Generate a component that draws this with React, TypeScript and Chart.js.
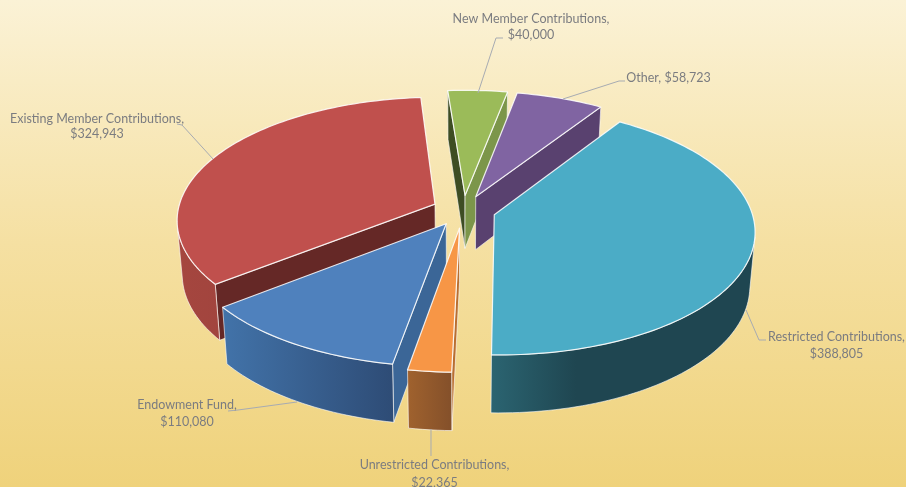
import React, { useEffect, useRef } from "react";
import { Chart, registerables } from "chart.js";

Chart.register(...registerables);

// ---- data ----
const categories = [
  "Restricted Contributions",
  "Unrestricted Contributions",
  "Endowment Fund",
  "Existing Member Contributions",
  "New Member Contributions",
  "Other",
];
const amounts = [388805, 22365, 110080, 324943, 40000, 58723];
const explode = [13.3, 14.7, 13, 12, 12.2, 12];
const topColors = ["#4BACC6", "#F79646", "#4F81BD", "#C0504D", "#9BBB59", "#8064A2"];

// ---- styling of the 3D projection ----
const W = 906;
const H = 487;
const RX = 257;
const KY = 121.5;
const PERSP = 0.1236;
const DEPTH = 53.5;
const DEPTH_PERSP = 0.08;
const CONVERGE = 0.018;
const DRAW_ORDER = [4, 5, 3, 0, 2, 1];
const NUDGE = [
  [-0.002, 0],
  [0.005, 0],
  [0.006, 0],
  [0.004, 0],
  [0.005, 0],
  [0.009, 0],
];
const WALLS = [
  { outer: [[0, "#2B6471"], [0.32, "#1F4651"], [1, "#1F4651"]], start: "#1F4651", end: "#2A6270" },
  { outer: [[0, "#A0622E"], [1, "#84502A"]], start: "#B96F30", end: "#84502A" },
  { outer: [[0, "#4273A9"], [1, "#2E4C76"]], start: "#3B6697", end: "#2E4C76" },
  { outer: [[0, "#A5463F"], [1, "#933D39"]], start: "#652826", end: "#652826" },
  { outer: [[0, "#7C964A"], [1, "#7C964A"]], start: "#3E4D23", end: "#7C964A" },
  { outer: [[0, "#59416F"], [1, "#59416F"]], start: "#59416F", end: "#59416F" },
];

const FONT = "12.5px Lato, 'Open Sans', sans-serif";
const TEXT_COLOR = "#7b7c80";
const LEADER_COLOR = "#a7abb2";
const fmt = (v: number) => "$" + v.toLocaleString("en-US");

// label lines are built from the data; placement per category
const LABELS = [
  { cx: 836.5, ys: [341, 358], leader: [[746, 310], [759, 340], [766, 340]] },
  { cx: 434.5, ys: [469, 487], leader: [[431, 429], [431, 456]] },
  { cx: 187, ys: [409, 426], leader: [[297, 402], [238, 410], [228, 411]] },
  { cx: 97, ys: [123, 138], leader: [[213, 159], [182, 125], [177, 124]] },
  { cx: 531, ys: [23, 39], leader: [[478, 93], [496, 38], [503, 38]] },
  { cx: 668.5, ys: [82], single: true, leader: [[563, 99], [619, 81], [625, 81]] },
];

type P = [number, number];

function path(ctx: CanvasRenderingContext2D, pts: P[]) {
  ctx.beginPath();
  pts.forEach((p, i) => (i ? ctx.lineTo(p[0], p[1]) : ctx.moveTo(p[0], p[1])));
  ctx.closePath();
}

function area(pts: P[]) {
  let s = 0;
  for (let i = 0; i < pts.length; i++) {
    const a = pts[i];
    const b = pts[(i + 1) % pts.length];
    s += a[0] * b[1] - b[0] * a[1];
  }
  return s;
}

const pie3d = {
  id: "pie3d",
  beforeDraw(chart: any) {
    const { ctx } = chart;
    const g = ctx.createLinearGradient(0, 0, 0, H);
    g.addColorStop(0, "#FBF2D6");
    g.addColorStop(0.5, "#F5E0A2");
    g.addColorStop(1, "#EFD27B");
    ctx.save();
    ctx.fillStyle = g;
    ctx.fillRect(0, 0, W, H);
    ctx.restore();
  },
  beforeDatasetsDraw(chart: any) {
    const { ctx } = chart;
    const meta = chart.getDatasetMeta(0);
    ctx.save();
    ctx.lineJoin = "round";
    for (const i of DRAW_ORDER) {
      const el = meta.data[i];
      const { startAngle, endAngle, x: cx, y: cy } = el;
      const e = (el.options.offset || 0) / 100;
      const mid = (startAngle + endAngle) / 2;
      const au = Math.cos(mid) * e + NUDGE[i][0];
      const av = Math.sin(mid) * e + NUDGE[i][1];
      const top = (u: number, v: number): P => {
        const s = 1 / (1 - PERSP * v);
        return [cx + RX * u * s, cy + KY * v * s];
      };
      const bot = (u: number, v: number): P => {
        const t = top(u, v);
        return [cx + (t[0] - cx) * (1 - CONVERGE), t[1] + DEPTH * (1 + DEPTH_PERSP * v)];
      };
      const steps = Math.max(4, Math.ceil((endAngle - startAngle) / 0.025));
      const uv: P[] = [];
      for (let k = 0; k <= steps; k++) {
        const a = startAngle + ((endAngle - startAngle) * k) / steps;
        uv.push([au + Math.cos(a), av + Math.sin(a)]);
      }
      const topArc = uv.map((p) => top(p[0], p[1]));
      const botArc = uv.map((p) => bot(p[0], p[1]));
      const apexT = top(au, av);
      const apexB = bot(au, av);
      const w = WALLS[i];

      const edge = "rgba(255,255,255,0.6)";
      const wall = (pts: P[], fill: any) => {
        if (area(pts) >= 0) return;
        path(ctx, pts);
        ctx.fillStyle = fill;
        ctx.fill();
        ctx.strokeStyle = edge;
        ctx.lineWidth = 1;
        ctx.stroke();
      };

      // radial walls
      wall([apexT, topArc[0], botArc[0], apexB], w.start);
      wall([topArc[steps], apexT, apexB, botArc[steps]], w.end);

      // outer rim: contiguous front-facing ranges
      const xs = topArc.map((p) => p[0]);
      const minX = Math.min(...xs);
      const maxX = Math.max(...xs);
      let k = 0;
      while (k < steps) {
        const facing = (j: number) =>
          area([topArc[j], topArc[j + 1], botArc[j + 1], botArc[j]]) < 0;
        if (!facing(k)) {
          k++;
          continue;
        }
        let j = k;
        while (j < steps && facing(j)) j++;
        const poly = [...topArc.slice(k, j + 1), ...botArc.slice(k, j + 1).reverse()];
        const g = ctx.createLinearGradient(minX, 0, maxX, 0);
        w.outer.forEach((s: any) => g.addColorStop(s[0], s[1]));
        path(ctx, poly);
        ctx.fillStyle = g;
        ctx.fill();
        ctx.strokeStyle = edge;
        ctx.lineWidth = 1;
        ctx.stroke();
        k = j;
      }

      // top face
      path(ctx, [apexT, ...topArc]);
      ctx.fillStyle = el.options.backgroundColor;
      ctx.fill();
      ctx.strokeStyle = "rgba(255,255,255,0.85)";
      ctx.lineWidth = 1.2;
      ctx.stroke();
    }
    ctx.restore();
    return false;
  },
  afterDraw(chart: any) {
    const { ctx } = chart;
    ctx.save();
    ctx.font = FONT;
    ctx.textAlign = "center";
    ctx.textBaseline = "alphabetic";
    categories.forEach((c, i) => {
      const l: any = LABELS[i];
      ctx.strokeStyle = LEADER_COLOR;
      ctx.lineWidth = 1;
      ctx.beginPath();
      l.leader.forEach((p: number[], k: number) =>
        k ? ctx.lineTo(p[0], p[1]) : ctx.moveTo(p[0], p[1])
      );
      ctx.stroke();
      ctx.fillStyle = TEXT_COLOR;
      const lines = l.single ? [`${c}, ${fmt(amounts[i])}`] : [`${c},`, fmt(amounts[i])];
      lines.forEach((t: string, k: number) => ctx.fillText(t, l.cx, l.ys[k]));
    });
    ctx.restore();
  },
};

export default function App() {
  const ref = useRef<HTMLCanvasElement>(null);
  useEffect(() => {
    document.body.style.margin = "0";
    const chart = new Chart(ref.current as HTMLCanvasElement, {
      type: "pie",
      data: {
        labels: categories,
        datasets: [
          {
            data: amounts,
            backgroundColor: topColors,
            offset: explode,
            borderWidth: 0,
          },
        ],
      },
      options: {
        animation: false,
        responsive: false,
        rotation: 33.3,
        layout: { padding: { left: 18, bottom: 67 } },
        plugins: { legend: { display: false }, tooltip: { enabled: false } },
      },
      plugins: [pie3d],
    } as any);
    return () => chart.destroy();
  }, []);
  return (
    <div style={{ width: W, height: H, overflow: "hidden" }}>
      <canvas ref={ref} width={W} height={H} style={{ display: "block" }} />
    </div>
  );
}
